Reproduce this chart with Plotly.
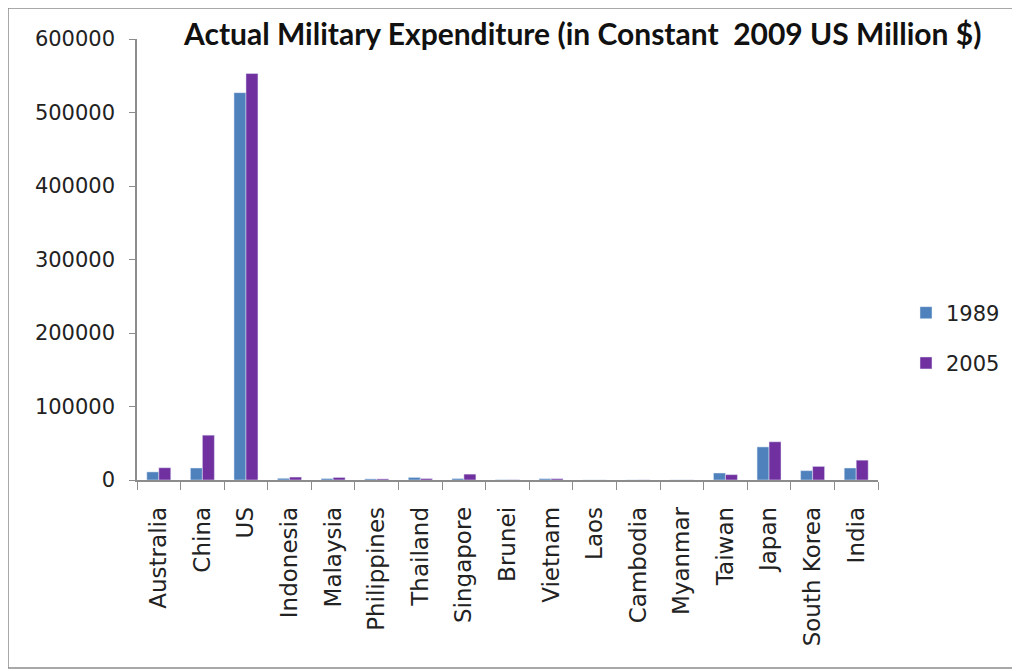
import plotly.graph_objects as go

countries = ["Australia", "China", "US", "Indonesia", "Malaysia", "Philippines", "Thailand",
             "Singapore", "Brunei", "Vietnam", "Laos", "Cambodia", "Myanmar", "Taiwan",
             "Japan", "South Korea", "India"]
values_1989 = [11000, 16300, 527000, 2300, 2000, 1500, 3500, 2000, 300, 1800, 50, 100, 100,
               9500, 45000, 12700, 16300]
values_2005 = [16700, 61000, 553000, 4000, 3500, 1500, 2000, 8000, 300, 1800, 50, 150, 100,
               7300, 52000, 18500, 27000]
y_ticks = [0, 100000, 200000, 300000, 400000, 500000, 600000]

OFF = 8  # page body margin
W, H = 1020 - OFF, 671 - OFF
L, R, T, B = 137 - OFF, 878 - OFF, 39 - OFF, 480 - OFF
pw, ph = R - L, B - T

def px(x):
    return (x - OFF - L) / pw

def py(y):
    return (B - (y - OFF)) / ph

fig = go.Figure()
fig.add_trace(go.Bar(x=countries, y=values_1989, name="1989", marker_color="#4F81BD",
                     legendgroup="a"))
fig.add_trace(go.Bar(x=countries, y=values_2005, name="2005", marker_color="#7030A0",
                     legendgroup="b"))

fig.update_layout(
    width=W, height=H,
    margin=dict(l=L, r=W - R, t=T, b=H - B, autoexpand=False),
    paper_bgcolor="white", plot_bgcolor="white",
    barmode="group", bargap=0.45, bargroupgap=0,
    font=dict(family="DejaVu Sans", size=21, color="#222222"),
    showlegend=True,
    legend=dict(x=px(906), y=py(338), xanchor="left", yanchor="middle",
                traceorder="grouped", tracegroupgap=20,
                font=dict(family="DejaVu Sans", size=21, color="#222222"),
                bgcolor="rgba(0,0,0,0)"),
    xaxis=dict(showline=True, linecolor="#8C8C8C", linewidth=1.5,
               ticks="outside", ticklen=8, tickcolor="#8C8C8C", tickson="boundaries",
               tickangle=-90, showgrid=False, zeroline=False, ticklabelstandoff=16,
               tickfont=dict(family="DejaVu Sans", size=23, color="#222222")),
    yaxis=dict(range=[0, 600000], tickvals=y_ticks, ticktext=[str(v) for v in y_ticks],
               showline=True, linecolor="#8C8C8C", linewidth=1.5,
               ticks="outside", ticklen=6, tickcolor="#8C8C8C", ticklabelstandoff=10,
               showgrid=False, zeroline=False,
               tickfont=dict(family="DejaVu Sans", size=21, color="#222222")),
)

fig.add_annotation(text="<b>Actual Military Expenditure (in Constant  2009 US Million $)</b>",
                   xref="paper", yref="paper", x=px(582), y=py(33),
                   xanchor="center", yanchor="middle", showarrow=False,
                   font=dict(family="Lato", size=30, color="#111111"))

fig.add_shape(type="rect", xref="paper", yref="paper",
              x0=px(8), x1=px(1013), y0=py(668), y1=py(8),
              line=dict(color="#8C8C8C", width=1.5), fillcolor="rgba(0,0,0,0)", layer="below")

fig.write_html("out.html")
